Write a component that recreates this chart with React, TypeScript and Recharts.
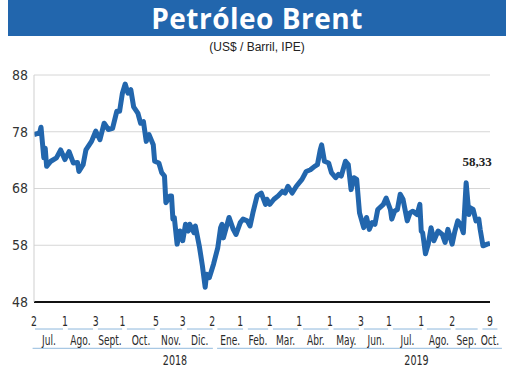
import { CartesianGrid, Line, LineChart, ReferenceLine, XAxis, YAxis } from 'recharts'

// trading-day index since 2 Jul 2018 (0 .. 325 = 9 Oct 2019)
const DAYS = [
  0, 4, 5, 7, 8, 9, 12, 16, 19, 22,
  25, 28, 31, 32, 35, 37, 41, 44, 47, 50,
  53, 56, 59, 61, 63, 65, 67, 69, 71, 74,
  76, 78, 80, 82, 85, 86, 89, 91, 93, 94,
  97, 98, 99, 100, 102, 104, 106, 108, 110, 111,
  114, 115, 118, 120, 122, 123, 125, 128, 131, 133,
  134, 135, 137, 139, 142, 144, 147, 149, 152, 154,
  156, 159, 162, 165, 166, 168, 171, 174, 177, 179,
  181, 184, 187, 191, 194, 197, 200, 202, 204, 205,
  207, 210, 212, 215, 217, 219, 222, 224, 226, 228,
  230, 232, 235, 237, 239, 241, 243, 245, 249, 251,
  254, 255, 257, 259, 261, 263, 266, 268, 270, 273,
  275, 276, 277, 279, 281, 283, 285, 288, 291, 293,
  295, 298, 300, 302, 304, 306, 308, 310, 311, 313,
  315, 317, 318, 320, 323, 325,
]

const PRICES = [
  77.5, 77.8, 78.8, 73.4, 75.1, 71.9, 72.8, 73.4, 74.8, 73.1,
  74.5, 72.5, 72.6, 71.0, 72.2, 74.8, 76.3, 78.1, 76.6, 79.5,
  78.4, 78.6, 81.6, 81.6, 84.8, 86.4, 84.8, 85.4, 82.4, 81.3,
  79.5, 79.8, 76.3, 77.5, 75.7, 72.8, 72.5, 70.8, 70.2, 65.5,
  66.7, 66.7, 62.6, 62.9, 58.2, 60.5, 58.8, 61.7, 60.5, 61.7,
  60.2, 61.4, 57.6, 54.4, 50.6, 52.9, 52.3, 54.7, 57.6, 61.1,
  61.7, 59.3, 61.1, 62.9, 60.8, 59.9, 62.0, 62.6, 62.3, 61.4,
  63.7, 66.7, 67.2, 65.2, 66.1, 65.2, 66.1, 66.7, 67.5, 67.2,
  68.4, 67.2, 68.4, 69.6, 71.0, 71.3, 71.9, 72.2, 74.8, 75.7,
  72.8, 72.5, 70.8, 69.9, 70.5, 70.2, 72.8, 72.2, 67.8, 69.9,
  69.6, 63.7, 61.1, 62.9, 60.8, 62.0, 61.7, 64.3, 65.2, 66.3,
  64.3, 62.6, 64.0, 64.3, 67.0, 66.1, 62.3, 63.7, 64.0, 63.4,
  65.2, 60.5, 60.2, 56.5, 58.2, 61.1, 58.8, 60.5, 59.9, 58.5,
  60.8, 58.2, 60.5, 62.3, 61.7, 60.2, 69.0, 63.4, 64.6, 64.3,
  62.3, 62.6, 60.8, 57.9, 58.2, 58.33,
]

// first quoted day of each month
const TICK_DAYS = [0, 22, 44, 63, 87, 106, 127, 147, 168, 189, 211, 233, 253, 276, 298, 325]
const TICK_LABELS = ['2', '1', '3', '1', '5', '3', '2', '1', '1', '1', '1', '3', '1', '1', '2', '9']

const MONTHS = ['Jul.', 'Ago.', 'Sept.', 'Oct.', 'Nov.', 'Dic.', 'Ene.', 'Feb.', 'Mar.', 'Abr.', 'May.', 'Jun.', 'Jul.', 'Ago.', 'Sep.', 'Oct.']
const MONTH_EDGES = [-1, 22.4, 43.8, 64.5, 88, 107.3, 129, 150.7, 168.6, 190, 211.7, 233.4, 254.1, 278.3, 298.7, 317.9, 332]

const YEARS = ['2018', '2019']
const YEAR_POS = [100.5, 272.6]
const YEAR_SPANS = [[-1, 127.5], [130.5, 333.5]]

const Y_TICKS = [48, 58, 68, 78, 88]

const data = DAYS.map((day, i) => ({ day, price: PRICES[i] }))
const monthMid = MONTHS.map((_, i) => (MONTH_EDGES[i] + MONTH_EDGES[i + 1]) / 2)

const BLUE = '#2266ad'
const RULE = '#a8c8e4'
const NARROW = "'Liberation Sans Narrow', 'DejaVu Sans Condensed', sans-serif"
const ROW1 = 43.24 // y value under the day numbers
const ROW2 = 39.84 // y value under the month names

// condensed label, squeezed horizontally like the print face
const Squeezed = ({ x, y, text, sx = 0.74 }: any) => (
  <text
    transform={`translate(${x},${y}) scale(${sx},1)`}
    textAnchor="middle" fontSize={14} fontFamily={NARROW} fill="#2a2a2a"
  >
    {text}
  </text>
)

const DayTick = ({ x, y, index }: any) => <Squeezed x={x} y={y + 24} text={TICK_LABELS[index]} sx={0.74} />
const MonthTick = ({ x, y, index }: any) => <Squeezed x={x} y={y + 17} text={MONTHS[index]} sx={0.72} />
const YearTick = ({ x, y, index }: any) => <Squeezed x={x} y={y + 17} text={YEARS[index]} sx={0.76} />

const EndLabel = ({ x, y, index, value }: any) => {
  if (index !== data.length - 1) return null
  return (
    <text x={x - 13} y={y - 77} textAnchor="middle" fontSize={13} fontWeight="bold" fontFamily="'Liberation Serif', serif" fill="#222">
      {String(value).replace('.', ',')}
    </text>
  )
}

export default function App() {
  return (
    <div style={{ position: 'absolute', left: 0, top: 0, width: 520, height: 369, background: '#fff' }}>
      <div
        style={{
          position: 'absolute', left: 8, top: 0, width: 498, height: 36, background: BLUE,
          color: '#fff', fontFamily: "'Open Sans', sans-serif", fontWeight: 700, fontSize: 28,
          lineHeight: '36px', textAlign: 'center', letterSpacing: 0.5,
        }}
      >
        Petróleo Brent
      </div>
      <div
        style={{
          position: 'absolute', left: 0, top: 40, width: 514, textAlign: 'center',
          fontFamily: "'Liberation Sans', sans-serif", fontSize: 12, color: '#222',
        }}
      >
        (US$ / Barril, IPE)
      </div>
      <div style={{ position: 'absolute', left: 0, top: 0 }}>
        <LineChart width={520} height={369} data={data} margin={{ top: 75, right: 30, bottom: 0, left: 0 }}>
          <CartesianGrid vertical={false} stroke="#d6d6d6" xAxisId="d" />
          <XAxis
            xAxisId="d" dataKey="day" type="number" domain={[0, 325]} allowDataOverflow
            ticks={TICK_DAYS} interval={0} tick={<DayTick />} tickLine={false} tickSize={0} tickMargin={0}
            axisLine={{ stroke: '#111', strokeWidth: 2 }} height={26}
          />
          <XAxis
            xAxisId="m" dataKey="day" type="number" domain={[0, 325]} allowDataOverflow
            ticks={monthMid} interval={0} tick={<MonthTick />} tickLine={false} tickSize={0} tickMargin={0}
            axisLine={false} height={20}
          />
          <XAxis
            xAxisId="y" dataKey="day" type="number" domain={[0, 325]} allowDataOverflow
            ticks={YEAR_POS} interval={0} tick={<YearTick />} tickLine={false} tickSize={0} tickMargin={0}
            axisLine={false} height={21}
          />
          <YAxis
            domain={[48, 88]} ticks={Y_TICKS} interval={0} width={34} allowDataOverflow
            axisLine={{ stroke: '#cfcfcf' }} tickLine={false} tickSize={0} tickMargin={6}
            tick={{ fontSize: 14, fontFamily: NARROW, fill: '#333' }}
          />
          {MONTHS.map((m, i) => (
            <ReferenceLine
              key={'u' + i} xAxisId="d" ifOverflow="visible" stroke={RULE} strokeWidth={1.3}
              segment={[{ x: MONTH_EDGES[i] + 1.7, y: ROW1 }, { x: MONTH_EDGES[i + 1] - 1.7, y: ROW1 }]}
            />
          ))}
          {YEARS.map((yr, i) => (
            <ReferenceLine
              key={'y' + i} xAxisId="d" ifOverflow="visible" stroke={RULE} strokeWidth={1.3}
              segment={[{ x: YEAR_SPANS[i][0], y: ROW2 }, { x: YEAR_SPANS[i][1], y: ROW2 }]}
            />
          ))}
          <Line
            xAxisId="d" type="linear" dataKey="price" stroke={BLUE} strokeWidth={5}
            strokeLinejoin="round" dot={false} isAnimationActive={false} label={<EndLabel />}
          />
        </LineChart>
      </div>
    </div>
  )
}
